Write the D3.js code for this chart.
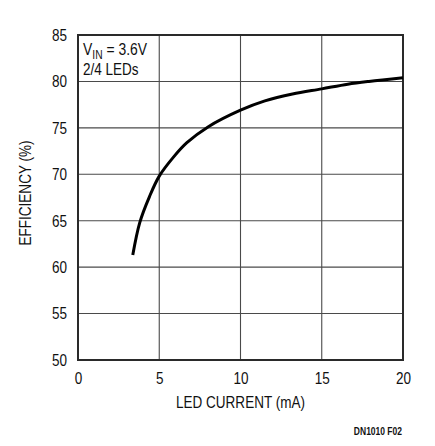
<!DOCTYPE html>
<html>
<head>
<meta charset="utf-8">
<script src="https://cdn.jsdelivr.net/npm/d3@7"></script>
<style>
  html, body { margin: 0; padding: 0; background: #fff; }
  text { font-family: "Liberation Sans", Arial, sans-serif; fill: #111; }
</style>
</head>
<body>
<svg id="chart" width="435" height="446"></svg>
<script>
const current = [3.37, 3.8, 4.4, 5.0, 5.9, 6.7, 8.0, 10.0, 11.5, 13.2, 15.0, 16.6, 17.9, 20.0];
const efficiency = [61.3, 64.8, 67.6, 69.8, 71.9, 73.4, 75.1, 76.9, 77.9, 78.65, 79.2, 79.7, 80.0, 80.4];
const xTicks = [0, 5, 10, 15, 20];
const yTicks = [50, 55, 60, 65, 70, 75, 80, 85];

const SX = 0.82;      // horizontal condensing to mimic a narrow face
const FS = 16.5;

const svg = d3.select("#chart");
const m = { left: 78, top: 35, right: 403, bottom: 360 };
const x = d3.scaleLinear().domain([0, 20]).range([m.left, m.right]);
const y = d3.scaleLinear().domain([50, 85]).range([m.bottom, m.top]);

// grid
svg.append("g").selectAll("line").data(xTicks.slice(1, -1)).join("line")
  .attr("x1", d => x(d)).attr("x2", d => x(d))
  .attr("y1", m.top).attr("y2", m.bottom)
  .attr("stroke", "#4a4a4a").attr("stroke-width", 1.1);
svg.append("g").selectAll("line").data(yTicks.slice(1, -1)).join("line")
  .attr("y1", d => y(d)).attr("y2", d => y(d))
  .attr("x1", m.left).attr("x2", m.right)
  .attr("stroke", "#4a4a4a").attr("stroke-width", 1.1);

// frame
svg.append("rect")
  .attr("x", m.left).attr("y", m.top)
  .attr("width", m.right - m.left).attr("height", m.bottom - m.top)
  .attr("fill", "none").attr("stroke", "#2a2a2a").attr("stroke-width", 2);

// axes
const xAxis = svg.append("g").attr("transform", `translate(0,${m.bottom})`)
  .call(d3.axisBottom(x).tickValues(xTicks).tickSize(0).tickPadding(12));
const yAxis = svg.append("g").attr("transform", `translate(${m.left},0)`)
  .call(d3.axisLeft(y).tickValues(yTicks).tickSize(0));
[xAxis, yAxis].forEach(a => {
  a.select(".domain").remove();
  a.selectAll("text").style("font-size", FS + "px")
    .style("font-family", '"Liberation Sans", Arial, sans-serif')
    .attr("fill", "#111")
    .attr("transform", `scale(${SX},1)`);
});
yAxis.selectAll("text").attr("x", -11 / SX);

// curve
const line = d3.line().x((d, i) => x(current[i])).y((d, i) => y(efficiency[i]))
  .curve(d3.curveCatmullRom.alpha(0.5));
svg.append("path").datum(current).attr("d", line)
  .attr("fill", "none").attr("stroke", "#000").attr("stroke-width", 3)
  .attr("stroke-linecap", "butt");

function label(tx, ty, txt, opts = {}) {
  const g = svg.append("g").attr("transform", `translate(${tx},${ty}) ${opts.rotate ? "rotate(" + opts.rotate + ")" : ""} scale(${opts.sx || SX},1)`);
  const t = g.append("text").attr("text-anchor", opts.anchor || "start")
    .style("font-size", (opts.size || FS) + "px");
  if (opts.weight) t.style("font-weight", opts.weight);
  if (opts.fill) t.attr("fill", opts.fill);
  if (txt !== null) t.text(txt);
  return t;
}

// titles
label((m.left + m.right) / 2, 408, "LED CURRENT (mA)", { anchor: "middle" });
label(31, 193, "EFFICIENCY (%)", { anchor: "middle", rotate: -90 });

// annotation
const ann = label(83, 55, null, { size: 17 });
ann.append("tspan").text("V");
ann.append("tspan").attr("dy", 3.5).style("font-size", "12.5px").text("IN");
ann.append("tspan").attr("dy", -3.5).text(" = 3.6V");
label(83, 74.5, "2/4 LEDs", { size: 16.5 });

label(402, 435, "DN1010 F02", { anchor: "end", size: 10, weight: "bold", fill: "#333", sx: 0.85 });
</script>
</body>
</html>
